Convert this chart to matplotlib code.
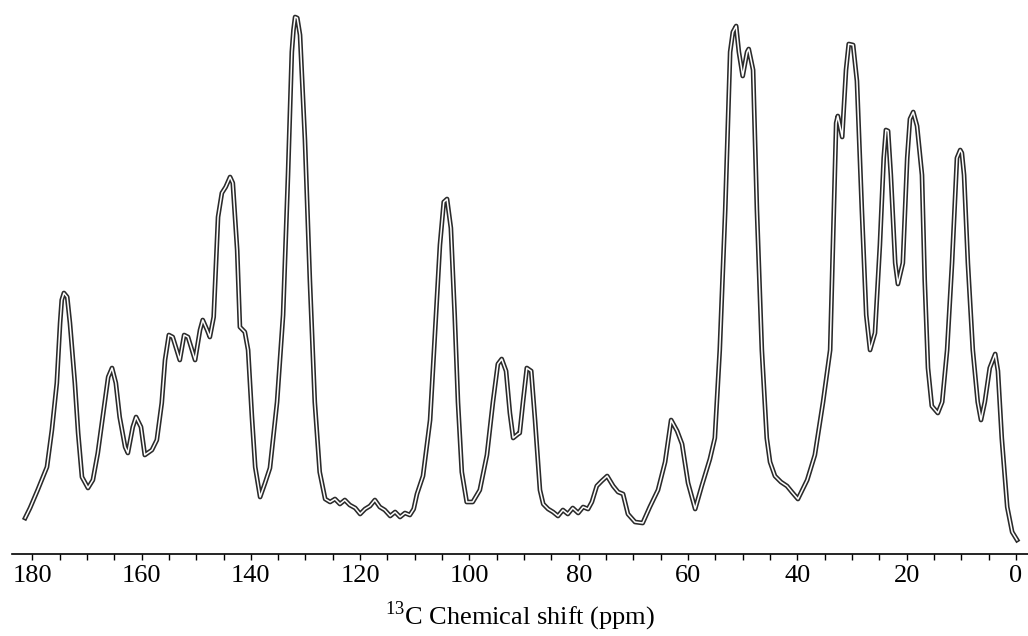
import matplotlib
matplotlib.use("Agg")
import matplotlib.pyplot as plt

# 13C CP/MAS spectrum (ppm, intensity in arbitrary units)
shift_ppm = [181.3, 180.4, 179.0, 177.3, 176.4, 175.5, 174.9, 174.6, 174.2, 173.6, 173.1,
             172.2, 171.6, 170.9, 169.8, 168.9, 168.0, 167.1, 166.1, 165.4, 164.7,
             164.0, 163.0, 162.5, 161.6, 161.0, 160.1, 159.4, 158.1, 157.2, 156.3,
             155.7, 155.0, 154.3, 153.0, 152.2, 151.5, 150.2, 149.3, 148.8, 148.0,
             147.5, 146.8, 146.0, 145.3, 144.6, 143.8, 143.3, 142.5, 142.0, 141.1,
             140.5, 139.8, 139.2, 138.3, 137.4, 136.5, 135.2, 134.1, 133.2, 132.5,
             132.2, 131.9, 131.5, 131.0, 130.1, 129.2, 128.3, 127.4, 126.4, 125.5, 124.6, 123.7,
             122.8, 121.9, 120.9, 120.0, 119.1, 118.2, 117.3, 116.4, 115.5, 114.5,
             113.6, 112.7, 111.8, 110.9, 110.2, 109.6, 108.5, 107.2, 106.3, 105.4,
             104.7, 104.1, 103.4, 102.7, 102.1, 101.4, 100.5, 99.4, 98.1, 96.8,
             95.7, 94.8, 94.1, 93.3, 92.6, 92.0, 91.1, 90.8, 90.2, 89.5,
             88.7, 88.0, 87.1, 86.5, 85.6, 84.7, 83.8, 82.9, 82.0, 81.1,
             80.1, 79.2, 78.3, 77.6, 76.7, 75.8, 74.8, 73.7, 72.8, 71.9,
             71.0, 69.7, 68.3, 67.0, 65.5, 64.2, 63.1, 62.0, 61.1, 60.0,
             58.7, 57.5, 56.0, 55.1, 54.2, 53.2, 52.3, 51.8, 51.2, 50.7,
             50.0, 49.2, 48.9, 48.1, 47.4, 46.5, 45.6, 45.0, 44.1, 43.0,
             41.9, 41.0, 39.9, 39.0, 38.2, 36.8, 35.3, 34.0, 33.5, 32.9,
             32.6, 31.8, 31.1, 30.6, 29.8, 29.1, 28.2, 27.4, 26.7, 25.8,
             24.9, 24.2, 23.8, 23.4, 22.9, 22.1, 21.6, 20.7, 19.9, 19.4, 18.8,
             18.1, 17.2, 16.7, 16.1, 15.4, 14.3, 13.5, 12.6, 11.7, 10.8,
             10.2, 9.9, 9.5, 8.8, 7.9, 7.0, 6.4, 5.7, 4.8, 3.8, 3.3,
             2.6, 1.6, 0.7, -0.2]
intensity = [36, 46, 64, 87, 124, 171, 231, 254, 261, 257, 231,
             171, 121, 77, 66, 74, 101, 137, 177, 186, 171,
             137, 107, 101, 127, 137, 127, 99, 104, 114, 151,
             194, 219, 217, 194, 219, 217, 194, 224, 234, 224,
             217, 237, 337, 361, 367, 377, 371, 304, 227, 222,
             204, 137, 87, 57, 71, 86, 152, 239, 379, 502,
             524, 537, 536, 519, 414, 274, 152, 82, 55, 52, 55, 50,
             54, 49, 46, 40, 45, 48, 54, 47, 44, 38,
             42, 37, 41, 39, 45, 60, 78, 134, 221, 309,
             352, 355, 326, 239, 152, 82, 52, 52, 64, 99,
             152, 190, 195, 183, 141, 116, 120, 121, 152, 186,
             183, 134, 64, 50, 45, 42, 38, 44, 40, 46,
             41, 47, 45, 52, 68, 73, 78, 68, 62, 60,
             40, 32, 31, 47, 64, 92, 134, 123, 110, 71,
             45, 68, 95, 116, 204, 344, 502, 522, 528, 502,
             478, 502, 505, 484, 344, 204, 116, 92, 78, 72,
             68, 62, 55, 65, 74, 99, 152, 204, 309, 431,
             438, 417, 484, 510, 509, 473, 344, 239, 204, 221,
             309, 396, 424, 423, 379, 291, 270, 291, 396, 435, 442,
             428, 379, 274, 186, 148, 141, 152, 204, 291, 396,
             404, 401, 379, 291, 204, 152, 134, 152, 186, 200, 183,
             116, 47, 22, 14]

major_ticks = [180, 160, 140, 120, 100, 80, 60, 40, 20, 0]
minor_ticks = list(range(0, 185, 5))

plt.rcParams["font.family"] = ["Liberation Serif", "DejaVu Serif"]
plt.rcParams["mathtext.fontset"] = "custom"
plt.rcParams["mathtext.rm"] = "Liberation Serif"

fig = plt.figure(figsize=(10.28, 6.36), dpi=100)
ax = fig.add_axes([12 / 1028, 82 / 636, 1016 / 1028, 554 / 636])

# double-line trace: dark outline with a white core
ax.plot(shift_ppm, intensity, color="#2a2a2a", lw=3.4, solid_joinstyle="round")
ax.plot(shift_ppm, intensity, color="white", lw=1.1, solid_joinstyle="round")

ax.set_xlim(183.7, -2.2)
ax.set_ylim(0, 554)

for s in ["top", "left", "right"]:
    ax.spines[s].set_visible(False)
ax.spines["bottom"].set_linewidth(1.2)
ax.set_yticks([])
ax.set_xticks(major_ticks)
ax.set_xticks(minor_ticks, minor=True)
ax.tick_params(axis="x", which="both", direction="out", length=4, width=1.0,
               labelsize=19, pad=4)
ax.set_xlabel(r"$^{13}$C Chemical shift (ppm)", fontsize=19, labelpad=9)

fig.savefig("out.png", dpi=100)
